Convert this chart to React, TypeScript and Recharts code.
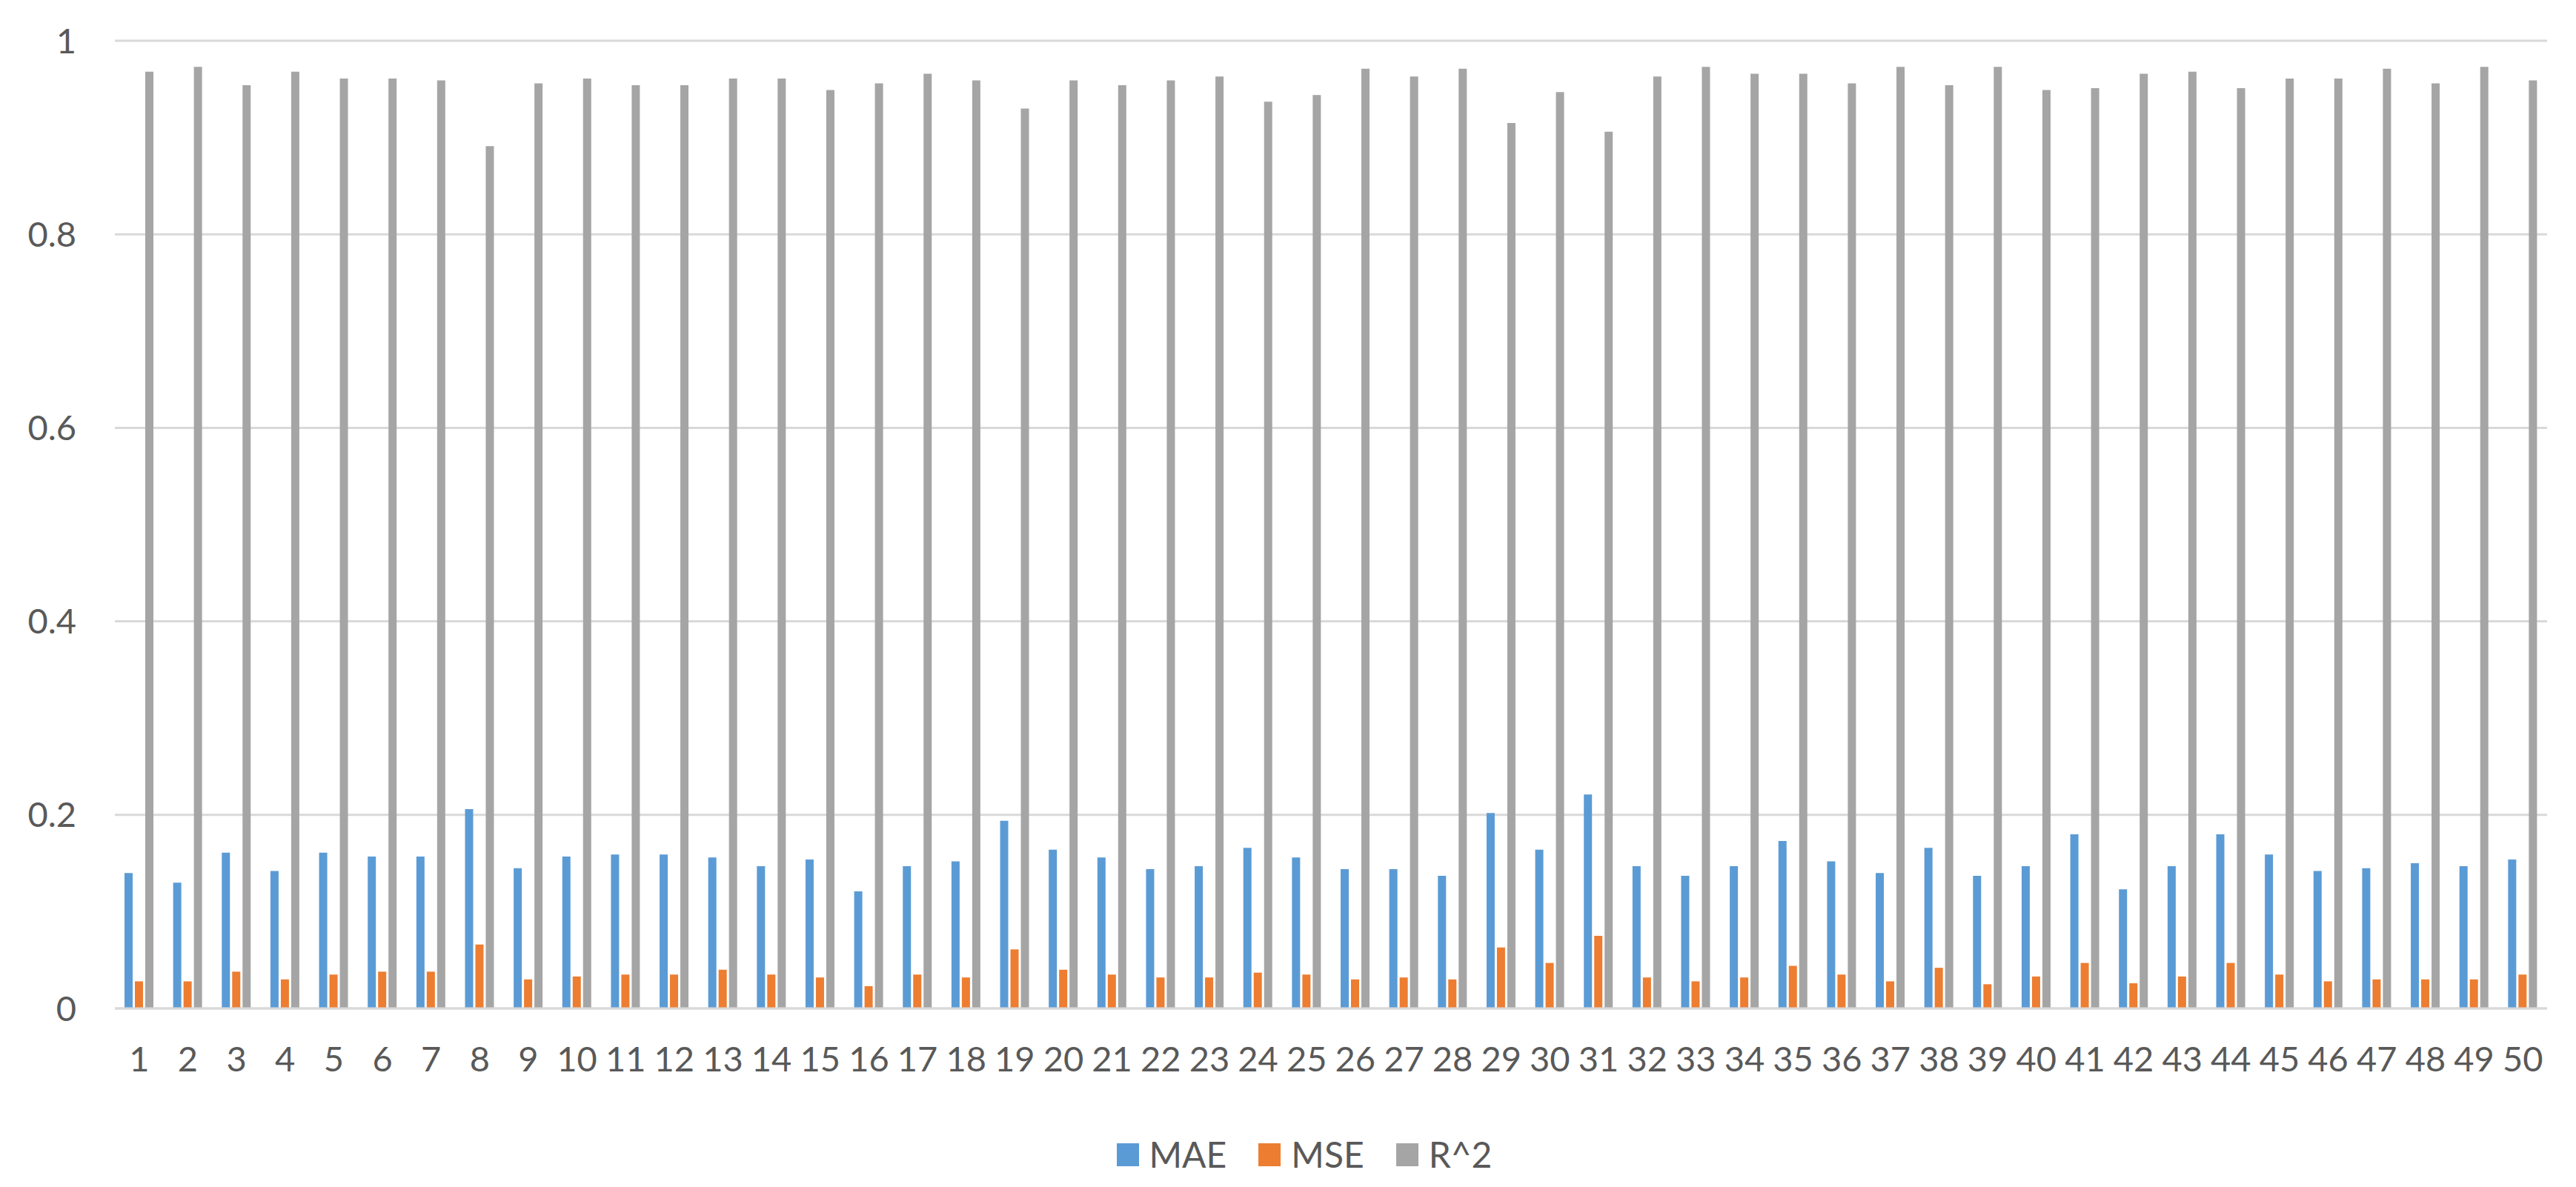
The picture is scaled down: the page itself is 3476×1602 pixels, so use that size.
import React from 'react';
import { BarChart, Bar, XAxis, YAxis, CartesianGrid, Legend } from 'recharts';

const categories = Array.from({ length: 50 }, (_, i) => String(i + 1));

const mae = [0.140,0.130,0.161,0.142,0.161,0.157,0.157,0.206,0.145,0.157,0.159,0.159,0.156,0.147,0.154,0.121,0.147,0.152,0.194,0.164,0.156,0.144,0.147,0.166,0.156,0.144,0.144,0.137,0.202,0.164,0.221,0.147,0.137,0.147,0.173,0.152,0.140,0.166,0.137,0.147,0.180,0.123,0.147,0.180,0.159,0.142,0.145,0.150,0.147,0.154];
const mse = [0.028,0.028,0.038,0.030,0.035,0.038,0.038,0.066,0.030,0.033,0.035,0.035,0.040,0.035,0.032,0.023,0.035,0.032,0.061,0.040,0.035,0.032,0.032,0.037,0.035,0.030,0.032,0.030,0.063,0.047,0.075,0.032,0.028,0.032,0.044,0.035,0.028,0.042,0.025,0.033,0.047,0.026,0.033,0.047,0.035,0.028,0.030,0.030,0.030,0.035];
const r2 = [0.968,0.973,0.954,0.968,0.961,0.961,0.959,0.891,0.956,0.961,0.954,0.954,0.961,0.961,0.949,0.956,0.966,0.959,0.930,0.959,0.954,0.959,0.963,0.937,0.944,0.971,0.963,0.971,0.915,0.947,0.906,0.963,0.973,0.966,0.966,0.956,0.973,0.954,0.973,0.949,0.951,0.966,0.968,0.951,0.961,0.961,0.971,0.956,0.973,0.959];

const yTicks = [0, 0.2, 0.4, 0.6, 0.8, 1];

const seriesNames = ['MAE', 'MSE', 'R^2'];
const seriesColors = ['#5B9BD5', '#ED7D31', '#A5A5A5'];

const data = categories.map((c, i) => ({ cat: c, MAE: mae[i], MSE: mse[i], 'R^2': r2[i] }));

const FONT = 'Lato, "Open Sans", sans-serif';
const TEXT = '#595959';

const LegendContent = () => (
  <div style={{ height: 151, width: 3476, display: 'flex', justifyContent: 'center', alignItems: 'flex-start', paddingTop: 89, paddingLeft: 44, boxSizing: 'border-box', fontFamily: FONT }}>
    {seriesNames.map((n, i) => (
      <div key={n} style={{ display: 'flex', alignItems: 'center', marginRight: i < 2 ? 43 : 0 }}>
        <div style={{ width: 30, height: 31, background: seriesColors[i], marginRight: 14 }} />
        <span style={{ fontSize: 48, color: TEXT, lineHeight: '36px' }}>{n}</span>
      </div>
    ))}
  </div>
);

export default function App() {
  return (
    <div style={{ position: 'absolute', left: 0, top: 0, width: 3476, height: 1602, background: '#fff' }}>
      <BarChart
        width={3476}
        height={1602}
        data={data}
        margin={{ top: 55, right: 39, bottom: 0, left: 0 }}
        barGap={3}
        barSize={11}
      >
        <CartesianGrid vertical={false} stroke="#d9d9d9" strokeWidth={3} />
        <XAxis
          dataKey="cat"
          interval={0}
          height={90}
          tickLine={false}
          tickSize={0}
          tickMargin={52}
          axisLine={{ stroke: '#d9d9d9', strokeWidth: 3 }}
          tick={{ fontSize: 47, fill: TEXT, fontFamily: FONT }}
        />
        <YAxis
          width={155}
          domain={[0, 1]}
          ticks={yTicks}
          interval={0}
          axisLine={false}
          tickLine={false}
          tickSize={0}
          tickMargin={52}
          tick={{ fontSize: 47, fill: TEXT, fontFamily: FONT }}
        />
        <Legend verticalAlign="bottom" content={<LegendContent />} wrapperStyle={{ left: 0, width: 3476, height: 151 }} />
        {seriesNames.map((n, i) => (
          <Bar key={n} dataKey={n} fill={seriesColors[i]} isAnimationActive={false} />
        ))}
      </BarChart>
    </div>
  );
}
